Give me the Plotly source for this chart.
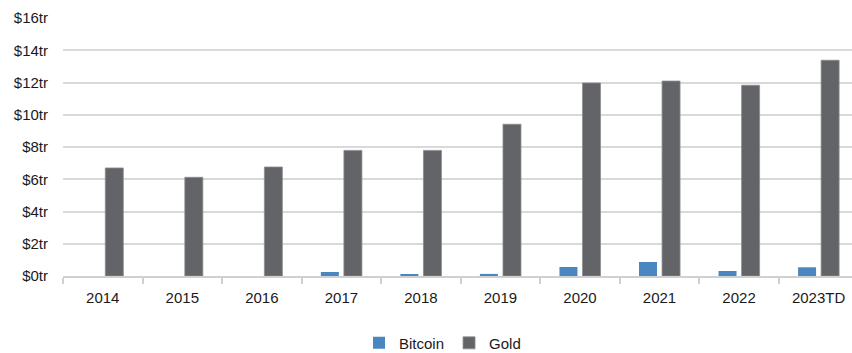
import plotly.graph_objects as go

years = ["2014", "2015", "2016", "2017", "2018", "2019", "2020", "2021", "2022", "2023TD"]
bitcoin_tr = [0.0, 0.0, 0.0, 0.25, 0.07, 0.13, 0.56, 0.87, 0.31, 0.54]
gold_tr = [6.70, 6.12, 6.76, 7.79, 7.79, 9.41, 11.97, 12.09, 11.83, 13.38]
y_ticks = [0, 2, 4, 6, 8, 10, 12, 14, 16]
y_labels = [f"${v}tr" for v in y_ticks]

FONT = "Liberation Sans, Arial, sans-serif"
FS = 15

fig = go.Figure()
fig.add_trace(go.Bar(name="Bitcoin", x=years, y=bitcoin_tr,
                     marker=dict(color="#4a87c1", line=dict(width=0))))
fig.add_trace(go.Bar(name="Gold", x=years, y=gold_tr,
                     marker=dict(color="#636468", line=dict(color="#8a8b8e", width=0.8))))

fig.update_layout(
    width=852, height=353,
    margin=dict(l=63, r=0, t=18, b=77, autoexpand=False),
    paper_bgcolor="white", plot_bgcolor="white",
    font=dict(family=FONT, size=FS, color="#1a1a1a"),
    barmode="group", bargap=0.42, bargroupgap=0.22,
    showlegend=True,
    legend=dict(orientation="h", x=0.481, xanchor="center",
                yref="container", y=0.028, yanchor="middle",
                font=dict(size=FS), itemwidth=30, traceorder="normal"),
    xaxis=dict(type="category", range=[-0.5, 9.42], showgrid=False, automargin=False,
               showline=True, linecolor="#d0d0d0", linewidth=1.5,
               ticks="outside", tickson="boundaries", ticklen=6,
               tickcolor="#d0d0d0", tickwidth=1.5, tickfont=dict(size=FS),
               ticklabelstandoff=7),
    yaxis=dict(range=[0, 16], tickvals=y_ticks, ticktext=y_labels, automargin=False,
               showgrid=True, gridcolor="#d9d9d9", gridwidth=1.5,
               zeroline=False, showline=False, ticks="", tickfont=dict(size=FS),
               ticklabelstandoff=14),
)

fig.write_html("out.html")
